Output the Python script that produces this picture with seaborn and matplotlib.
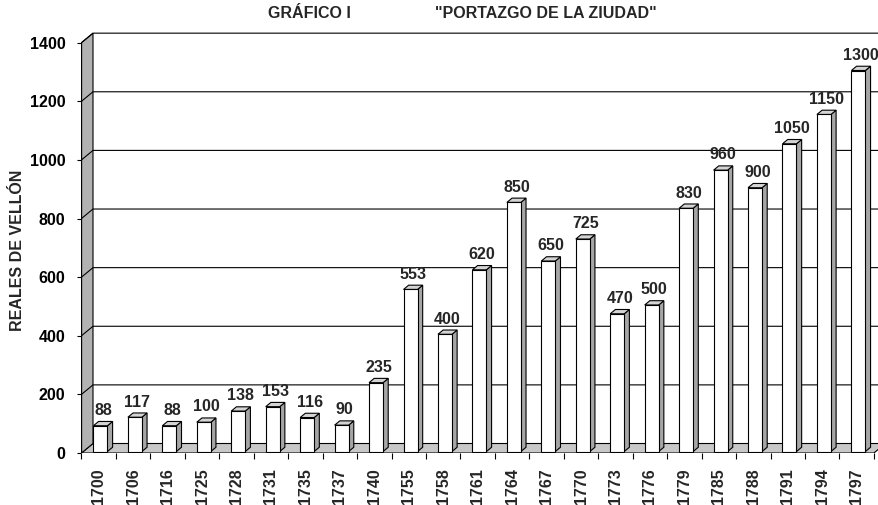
import numpy as np
import pandas as pd
import matplotlib
matplotlib.use('Agg')
from matplotlib import pyplot as plt
from matplotlib.patches import Polygon
from matplotlib.ticker import FixedLocator
import seaborn as sns

# datos del gráfico
anios = ['1700', '1706', '1716', '1725', '1728', '1731', '1735', '1737', '1740', '1755',
         '1758', '1761', '1764', '1767', '1770', '1773', '1776', '1779', '1785', '1788',
         '1791', '1794', '1797']
reales = [88, 117, 88, 100, 138, 153, 116, 90, 235, 553,
          400, 620, 850, 650, 725, 470, 500, 830, 960, 900,
          1050, 1150, 1300]
yticks = [0, 200, 400, 600, 800, 1000, 1200, 1400]

sns.set_style('white')
plt.rcParams['font.family'] = ['Liberation Sans', 'DejaVu Sans']
plt.rcParams['font.weight'] = 'bold'
fs = 11.5

df = pd.DataFrame({'anio': anios, 'reales': reales})

fig = plt.figure(figsize=(8.79, 5.05), dpi=100)
# ejes: frente de la caja 3D, la pared del fondo desplazada dx, dy
ymax = 1440
ax = fig.add_axes([80.8 / 879, 52 / 505, 1 - 80.8 / 879, ymax * 0.2931 / 505])
n = len(anios)
dx, dy = 0.334, 32.4  # profundidad de la caja

# barras frontales con seaborn
sns.barplot(data=df, x='anio', y='reales', color='white', width=0.406,
            edgecolor='black', linewidth=0.8, saturation=1, ax=ax, zorder=5)

ox, oy = 0.05, 5.0      # desplazamiento de la cara frontal de la barra
bdx, bdy = 0.15, 14.6   # profundidad de la barra
for p, v in zip(ax.patches, reales):
    p.set_x(p.get_x() + ox)
    p.set_y(oy)
    x0, w, h = p.get_x(), p.get_width(), p.get_height()
    x1, top = x0 + w, oy + h
    lado = Polygon([(x1, oy), (x1 + bdx, oy + bdy), (x1 + bdx, top + bdy), (x1, top)],
                   closed=True, facecolor='#a6a6a6', edgecolor='black', lw=0.8, zorder=4)
    tapa = Polygon([(x0, top), (x0 + bdx, top + bdy), (x1 + bdx, top + bdy), (x1, top)],
                   closed=True, facecolor='#d4d4d4', edgecolor='black', lw=0.8, zorder=4)
    ax.add_patch(lado)
    ax.add_patch(tapa)
    ax.text(x0 + w / 2 + bdx / 2, top + bdy + 22, str(v), ha='center', va='baseline',
            fontsize=fs, fontweight='bold', zorder=6)

# suelo y pared lateral
xl, xr = -0.5, n - 0.5
ax.add_patch(Polygon([(xl, 0), (xr, 0), (xr + dx, dy), (xl + dx, dy)], closed=True,
                     facecolor='#c8c8c8', edgecolor='black', lw=0.8, zorder=1))
ax.add_patch(Polygon([(xl, 0), (xl + dx, dy), (xl + dx, 1400 + dy), (xl, 1400)], closed=True,
                     facecolor='#b2b2b2', edgecolor='black', lw=0.8, zorder=1))
# líneas de división en la pared del fondo
for v in yticks[1:]:
    ax.plot([xl, xl + dx, xr + dx], [v, v + dy, v + dy], color='black', lw=0.8, zorder=2)
ax.plot([xl, xl], [0, 1400], color='black', lw=0.9, zorder=3)

ax.set_xlim(-0.52, 22.648)
ax.set_ylim(0, ymax)
for s in ax.spines.values():
    s.set_visible(False)

ax.set_yticks(yticks)
ax.set_yticklabels([str(t) for t in yticks], fontsize=fs, fontweight='bold')
ax.tick_params(axis='y', left=True, length=3, width=0.8, pad=8, colors='black')
ax.set_xticks(range(n))
ax.set_xticklabels(anios, rotation=90, fontsize=fs, fontweight='bold')
ax.xaxis.set_minor_locator(FixedLocator(np.arange(n + 1) - 0.5))
ax.tick_params(axis='x', which='major', bottom=True, length=0, pad=11)
ax.tick_params(axis='x', which='minor', bottom=True, length=4.5, width=0.8, color='black')
ax.set_xlabel('')
ax.set_ylabel('')

fig.text(18 / 879, 1 - 250 / 505, 'REALES DE VELLÓN', rotation=90, ha='center', va='center',
         fontsize=fs, fontweight='bold')
fig.text(268 / 879, 1 - 13 / 505, 'GRÁFICO I', ha='left', va='center', fontsize=fs, fontweight='bold')
fig.text(435 / 879, 1 - 13 / 505, '"PORTAZGO DE LA ZIUDAD"', ha='left', va='center',
         fontsize=fs, fontweight='bold')

plt.savefig('out.png', dpi=100)
